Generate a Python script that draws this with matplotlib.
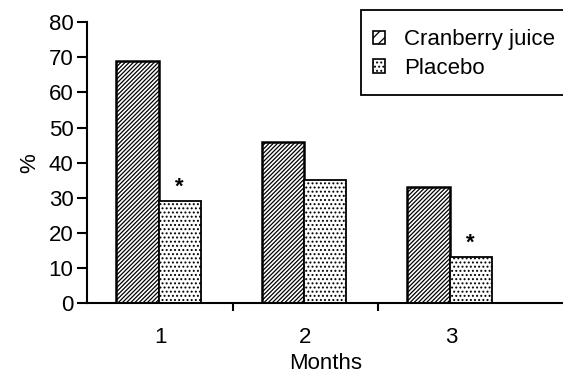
import numpy as np
import matplotlib
matplotlib.use('Agg')
from matplotlib import pyplot as plt
from matplotlib.patches import Rectangle, Patch

plt.rcParams['font.family'] = ['Liberation Sans', 'DejaVu Sans']
plt.rcParams['hatch.linewidth'] = 0.9

months = ['1', '2', '3']
cranberry = [69, 46, 33]
placebo = [29, 35, 13]
starred = [True, False, True]

fig = plt.figure(figsize=(5.63, 3.77), dpi=100)
ax = fig.add_axes([0.155, 0.196, 0.845, 0.745])

x = np.arange(1, len(months) + 1)
w = 0.29
ax.bar(x - w / 2 - 0.01, cranberry, w, facecolor='white', edgecolor='black',
       hatch='////////', linewidth=1.8)
ax.bar(x + w / 2 - 0.01, placebo, w, facecolor='white', edgecolor='black',
       hatch='....', linewidth=1.3)

# significance markers
for xi, v, s in zip(x, placebo, starred):
    if s:
        ax.text(xi + w / 2 - 0.01, v + 1.0, '*', ha='center', va='bottom',
                fontsize=16, fontweight='bold')

ax.set_ylim(0, 80)
ax.set_xlim(0.5, 3.77)
ax.set_yticks(range(0, 81, 10))
ax.set_xticks(x)
ax.set_xticklabels(months)
ax.set_xticks([1.5, 2.5], minor=True)
ax.tick_params(axis='x', which='major', length=0, pad=17, labelsize=16)
ax.tick_params(axis='x', which='minor', length=6, width=1.5, direction='out')
ax.tick_params(axis='y', length=7, width=1.5, labelsize=16, pad=3)

for side in ['top', 'right']:
    ax.spines[side].set_visible(False)
for side in ['left', 'bottom']:
    ax.spines[side].set_linewidth(1.5)

ax.set_xlabel('Months', fontsize=16, labelpad=4)
ax.set_ylabel('%', fontsize=16, labelpad=6)

# legend box drawn by hand: it is wider/taller than its entries in the original
fig.patches.append(Rectangle((361 / 563, 1 - 95 / 377), 0.36, 85 / 377,
                             transform=fig.transFigure, facecolor='white',
                             edgecolor='black', linewidth=1.3, zorder=1))
handles = [Patch(facecolor='white', edgecolor='black', hatch='///', linewidth=1.2),
           Patch(facecolor='white', edgecolor='black', hatch='....', linewidth=1.2)]
fig.legend(handles, ['Cranberry juice', 'Placebo'], loc='center left',
           bbox_to_anchor=(373 / 563, 1 - 54 / 377),
           fontsize=16, frameon=False, borderpad=0,
           labelspacing=0.35, handlelength=0.55, handleheight=0.55,
           handletextpad=0.85, borderaxespad=0)

fig.savefig('out.png', dpi=100)
